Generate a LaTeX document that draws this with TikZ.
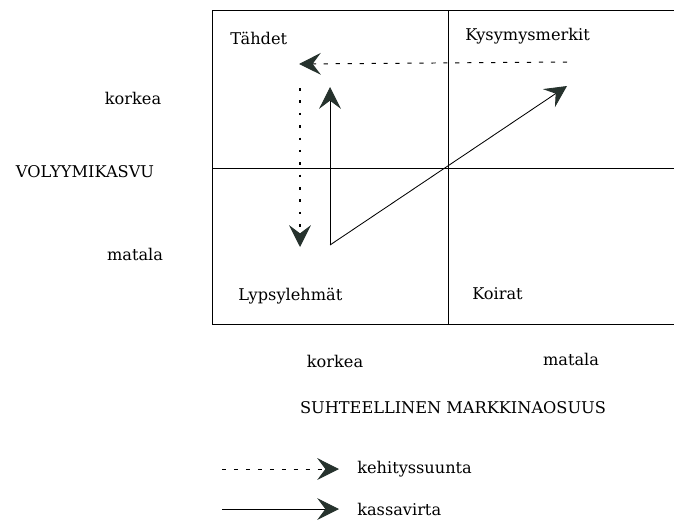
\documentclass[tikz,border=0pt]{standalone}
\usepackage{fontspec}
\setmainfont{DejaVu Serif}
\usetikzlibrary{arrows.meta}

\definecolor{karki}{RGB}{38,50,45}

\tikzset{
  kark/.style={-{Stealth[length=15.5pt, width=15.5pt, inset=5.8pt, color=karki]}},
  kehitys/.style={kark, dash pattern=on 3pt off 5.5pt, line width=0.7pt},
  pisteet/.style={kark, dash pattern=on 1.8pt off 7pt, line width=0.8pt},
  kassa/.style={kark, line width=0.6pt},
  lbl/.style={font=\fontsize{11.5}{13}\selectfont, inner sep=0pt}
}

\begin{document}
\begin{tikzpicture}[x=0.025cm, y=-0.025cm]
        \useasboundingbox (0,0) rectangle (674,522);

        % Matrix
        \draw[line width=0.7pt] (212,10) rectangle (680,324);
        \draw[line width=0.6pt] (448,10) -- (448,324); % vertical divider
        \draw[line width=0.6pt] (212,168) -- (680,168); % horizontal divider

        % Quadrant names
        \node[lbl, anchor=west] (tahdet) at (230,38) {Tähdet};
        \node[lbl, anchor=west] (kysymys) at (465,36) {Kysymysmerkit};
        \node[lbl, anchor=west] (lypsy) at (238,296) {Lypsylehmät};
        \node[lbl, anchor=west] (koirat) at (472,294) {Koirat};

        % Axis labels
        \node[lbl] (ykorkea) at (133,98) {korkea};
        \node[lbl] (volyymi) at (85,172) {VOLYYMIKASVU};
        \node[lbl] (ymatala) at (135,254) {matala};
        \node[lbl] (xkorkea) at (335,361) {korkea};
        \node[lbl] (xmatala) at (571,359) {matala};
        \node[lbl] (osuus) at (453,408) {SUHTEELLINEN MARKKINAOSUUS};

        % Arrow end points
        \coordinate (kysA) at (567,62);
        \coordinate (tahA) at (299,64);
        \coordinate (dotA) at (300,88);
        \coordinate (dotB) at (300,247);
        \coordinate (lypA) at (330,245);
        \coordinate (tahB) at (330,87);
        \coordinate (kysB) at (567,86);

        % Development direction (dashed / dotted)
        \draw[kehitys] (kysA) -- (tahA);
        \draw[pisteet] (dotA) -- (dotB);

        % Cash flow (solid)
        \draw[kassa] (lypA) -- (tahB);
        \draw[kassa] (lypA) -- (kysB);

        % Legend
        \coordinate (leg1a) at (222,469);
        \coordinate (leg1b) at (339,469);
        \coordinate (leg2a) at (222,509);
        \coordinate (leg2b) at (339,509);
        \draw[kehitys] (leg1a) -- (leg1b);
        \draw[kassa] (leg2a) -- (leg2b);
        \node[lbl, anchor=west] (kehitysteksti) at (357,469) {kehityssuunta};
        \node[lbl, anchor=west] (kassateksti) at (357,509) {kassavirta};
\end{tikzpicture}
\end{document}
